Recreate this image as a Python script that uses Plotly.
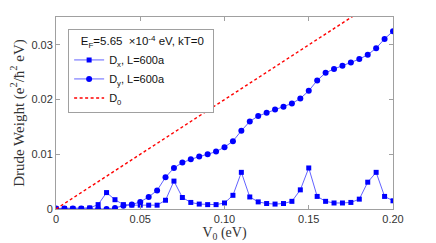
import plotly.graph_objects as go

v0 = [0.000, 0.005, 0.010, 0.015, 0.020, 0.025, 0.030, 0.035, 0.040, 0.045,
      0.050, 0.055, 0.060, 0.065, 0.070, 0.075, 0.080, 0.085, 0.090, 0.095,
      0.100, 0.105, 0.110, 0.115, 0.120, 0.125, 0.130, 0.135, 0.140, 0.145,
      0.150, 0.155, 0.160, 0.165, 0.170, 0.175, 0.180, 0.185, 0.190, 0.195, 0.200]

dx = [0.0001, 0.0001, 0.0001, 0.0001, 0.0002, 0.0008, 0.0030, 0.0017, 0.0008, 0.0007,
      0.0007, 0.0007, 0.0007, 0.0016, 0.0051, 0.0021, 0.0012, 0.0009, 0.0008, 0.0008,
      0.0011, 0.0025, 0.0067, 0.0022, 0.0013, 0.0010, 0.0009, 0.0010, 0.0014, 0.0035,
      0.0075, 0.0023, 0.0014, 0.0011, 0.0011, 0.0012, 0.0018, 0.0049, 0.0067, 0.0023, 0.0015]

dy = [0.0001, 0.0001, 0.0001, 0.0001, 0.0001, 0.0000, 0.0000, 0.0002, 0.0006, 0.0008,
      0.0013, 0.0022, 0.0034, 0.0058, 0.0075, 0.0085, 0.0091, 0.0096, 0.0100, 0.0105,
      0.0113, 0.0124, 0.0143, 0.0160, 0.0170, 0.0176, 0.0182, 0.0187, 0.0193, 0.0202,
      0.0216, 0.0235, 0.0249, 0.0256, 0.0262, 0.0268, 0.0274, 0.0282, 0.0294, 0.0311, 0.0325]

v0_line = [0.0, 0.2]
d0 = [0.0, 0.04]

x_ticks = [0, 0.05, 0.10, 0.15, 0.20]
x_labels = ["0", "0.05", "0.10", "0.15", "0.20"]
y_ticks = [0, 0.01, 0.02, 0.03]
y_labels = ["0", "0.01", "0.02", "0.03"]

fig = go.Figure()
fig.add_trace(go.Scatter(
    x=v0, y=dx, mode="lines+markers", name="D<sub>x</sub>, L=600a",
    line=dict(color="rgba(70,70,255,0.85)", width=1),
    marker=dict(symbol="square", size=5, color="#0000ff"),
))
fig.add_trace(go.Scatter(
    x=v0, y=dy, mode="lines+markers", name="D<sub>y</sub>, L=600a",
    line=dict(color="rgba(70,70,255,0.85)", width=1),
    marker=dict(symbol="circle", size=6, color="#0000ff"),
))
fig.add_trace(go.Scatter(
    x=v0_line, y=d0, mode="lines", name="D<sub>0</sub>",
    line=dict(color="#ff0000", width=1.4, dash="3px,2.5px"),
))

axis_common = dict(
    showgrid=False, zeroline=False, showline=True, linecolor="#a0a0a0",
    linewidth=1, mirror="ticks", ticks="inside", ticklen=4, tickcolor="#a0a0a0",
    automargin=False,
    tickfont=dict(family="Liberation Sans, Arial", size=11, color="#333333"),
)

nb = "\u00a0"
legend_title = nb * 3 + "E<sub>F</sub>=5.65" + nb * 2 + "×10<sup>-4</sup> eV, kT=0" + nb * 2

fig.update_layout(
    width=436, height=243,
    margin=dict(l=56, r=43, t=17, b=34),
    paper_bgcolor="white", plot_bgcolor="white",
    xaxis=dict(range=[0, 0.2], tickvals=x_ticks, ticktext=x_labels,
               title=dict(text="V<sub>0</sub> (eV)", standoff=0,
                          font=dict(family="Liberation Serif, Times New Roman", size=14, color="#333333")),
               **axis_common),
    yaxis=dict(range=[0, 0.0351], tickvals=y_ticks, ticktext=y_labels,
               title=dict(text="Drude Weight (e<sup>2</sup>/ħ<sup>2</sup> eV)", standoff=3,
                          font=dict(family="Liberation Serif, Times New Roman", size=15, color="#333333")),
               **axis_common),
    legend=dict(
        x=0.036, y=0.935, xanchor="left", yanchor="top",
        bgcolor="white", bordercolor="#a0a0a0", borderwidth=1,
        font=dict(family="Liberation Sans, Arial", size=11, color="#111111"),
        title=dict(text=legend_title,
                   font=dict(family="Liberation Sans, Arial", size=11.5, color="#111111")),
        itemwidth=30, tracegroupgap=0,
    ),
    showlegend=True,
)

fig.write_html("out.html", config={"displayModeBar": False},
               post_script="document.body.style.margin='0';document.body.style.overflow='hidden';")
